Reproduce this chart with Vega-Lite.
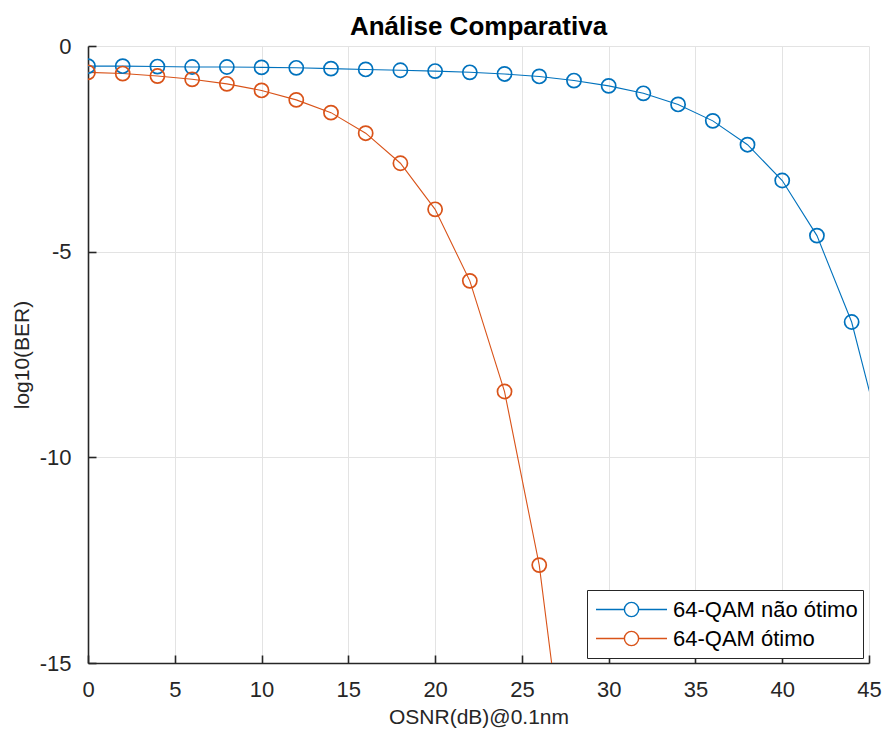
{
  "$schema": "https://vega.github.io/schema/vega-lite/v6.json",
  "width": 781,
  "height": 617,
  "autosize": {"type": "none"},
  "padding": {"left": 88, "top": 46, "right": 14, "bottom": 70},
  "background": "white",
  "config": {
    "view": {"stroke": null},
    "font": "Liberation Sans",
    "axis": {
      "labelFont": "Liberation Sans",
      "titleFont": "Liberation Sans",
      "labelColor": "#262626",
      "titleColor": "#262626",
      "domainColor": "#262626",
      "tickColor": "#262626",
      "gridColor": "#e3e3e3",
      "gridWidth": 1,
      "domainWidth": 1.6,
      "tickWidth": 1.6,
      "labelFontSize": 22,
      "titleFontSize": 21,
      "titleFontWeight": "normal"
    },
    "legend": {
      "orient": "none",
      "legendX": 499,
      "legendY": 544,
      "direction": "vertical",
      "symbolType": "M-1,0H-0.2M0.2,0H1M-0.2,0A0.2,0.2,0,1,1,0.2,0A0.2,0.2,0,1,1,-0.2,0",
      "symbolSize": 5041,
      "symbolStrokeWidth": 1.4,
      "symbolFillColor": "transparent",
      "symbolOffset": 3,
      "clipHeight": 29,
      "rowPadding": 0,
      "padding": 5,
      "labelOffset": 5,
      "labelFont": "Liberation Sans",
      "labelFontSize": 22,
      "labelColor": "#000000",
      "labelLimit": 400,
      "strokeColor": "#262626",
      "fillColor": "white",
      "cornerRadius": 0
    }
  },
  "title": {
    "text": "Análise Comparativa",
    "font": "Liberation Sans",
    "fontSize": 26,
    "fontWeight": "bold",
    "color": "#000000",
    "anchor": "middle",
    "baseline": "bottom",
    "offset": 7,
    "dy": 38
  },
  "data": {
    "values": [
      {"osnr": 0, "ber": -0.49, "serie": "64-QAM não ótimo"},
      {"osnr": 2, "ber": -0.49, "serie": "64-QAM não ótimo"},
      {"osnr": 4, "ber": -0.50, "serie": "64-QAM não ótimo"},
      {"osnr": 6, "ber": -0.51, "serie": "64-QAM não ótimo"},
      {"osnr": 8, "ber": -0.51, "serie": "64-QAM não ótimo"},
      {"osnr": 10, "ber": -0.52, "serie": "64-QAM não ótimo"},
      {"osnr": 12, "ber": -0.53, "serie": "64-QAM não ótimo"},
      {"osnr": 14, "ber": -0.55, "serie": "64-QAM não ótimo"},
      {"osnr": 16, "ber": -0.57, "serie": "64-QAM não ótimo"},
      {"osnr": 18, "ber": -0.59, "serie": "64-QAM não ótimo"},
      {"osnr": 20, "ber": -0.61, "serie": "64-QAM não ótimo"},
      {"osnr": 22, "ber": -0.64, "serie": "64-QAM não ótimo"},
      {"osnr": 24, "ber": -0.68, "serie": "64-QAM não ótimo"},
      {"osnr": 26, "ber": -0.74, "serie": "64-QAM não ótimo"},
      {"osnr": 28, "ber": -0.84, "serie": "64-QAM não ótimo"},
      {"osnr": 30, "ber": -0.97, "serie": "64-QAM não ótimo"},
      {"osnr": 32, "ber": -1.15, "serie": "64-QAM não ótimo"},
      {"osnr": 34, "ber": -1.42, "serie": "64-QAM não ótimo"},
      {"osnr": 36, "ber": -1.82, "serie": "64-QAM não ótimo"},
      {"osnr": 38, "ber": -2.40, "serie": "64-QAM não ótimo"},
      {"osnr": 40, "ber": -3.27, "serie": "64-QAM não ótimo"},
      {"osnr": 42, "ber": -4.61, "serie": "64-QAM não ótimo"},
      {"osnr": 44, "ber": -6.71, "serie": "64-QAM não ótimo"},
      {"osnr": 46, "ber": -10.0, "serie": "64-QAM não ótimo"},
      {"osnr": 0, "ber": -0.64, "serie": "64-QAM ótimo"},
      {"osnr": 2, "ber": -0.67, "serie": "64-QAM ótimo"},
      {"osnr": 4, "ber": -0.73, "serie": "64-QAM ótimo"},
      {"osnr": 6, "ber": -0.81, "serie": "64-QAM ótimo"},
      {"osnr": 8, "ber": -0.92, "serie": "64-QAM ótimo"},
      {"osnr": 10, "ber": -1.08, "serie": "64-QAM ótimo"},
      {"osnr": 12, "ber": -1.31, "serie": "64-QAM ótimo"},
      {"osnr": 14, "ber": -1.62, "serie": "64-QAM ótimo"},
      {"osnr": 16, "ber": -2.12, "serie": "64-QAM ótimo"},
      {"osnr": 18, "ber": -2.85, "serie": "64-QAM ótimo"},
      {"osnr": 20, "ber": -3.97, "serie": "64-QAM ótimo"},
      {"osnr": 22, "ber": -5.71, "serie": "64-QAM ótimo"},
      {"osnr": 24, "ber": -8.40, "serie": "64-QAM ótimo"},
      {"osnr": 26, "ber": -12.62, "serie": "64-QAM ótimo"},
      {"osnr": 28, "ber": -19.3, "serie": "64-QAM ótimo"}
    ]
  },
  "encoding": {
    "x": {
      "field": "osnr",
      "type": "quantitative",
      "scale": {"domain": [0, 45], "nice": false, "zero": false},
      "axis": {
        "title": "OSNR(dB)@0.1nm",
        "values": [0, 5, 10, 15, 20, 25, 30, 35, 40, 45],
        "grid": true,
        "tickSize": -8,
        "labelPadding": 24,
        "titlePadding": 6,
        "labelFlush": false
      }
    },
    "y": {
      "field": "ber",
      "type": "quantitative",
      "scale": {"domain": [-15, 0], "nice": false, "zero": false},
      "axis": {
        "title": "log10(BER)",
        "values": [-15, -10, -5, 0],
        "labelExpr": "datum.value + ''",
        "grid": true,
        "tickSize": -8,
        "labelPadding": 25,
        "titlePadding": 7,
        "labelFlush": false
      }
    },
    "color": {
      "field": "serie",
      "type": "nominal",
      "title": null,
      "scale": {
        "domain": ["64-QAM não ótimo", "64-QAM ótimo"],
        "range": ["#0072BD", "#D95319"]
      }
    }
  },
  "layer": [
    {
      "mark": {"type": "line", "strokeWidth": 1.1, "clip": true}
    },
    {
      "mark": {"type": "point", "shape": "circle", "filled": false, "size": 200, "strokeWidth": 1.7, "clip": true, "opacity": 1}
    }
  ]
}
